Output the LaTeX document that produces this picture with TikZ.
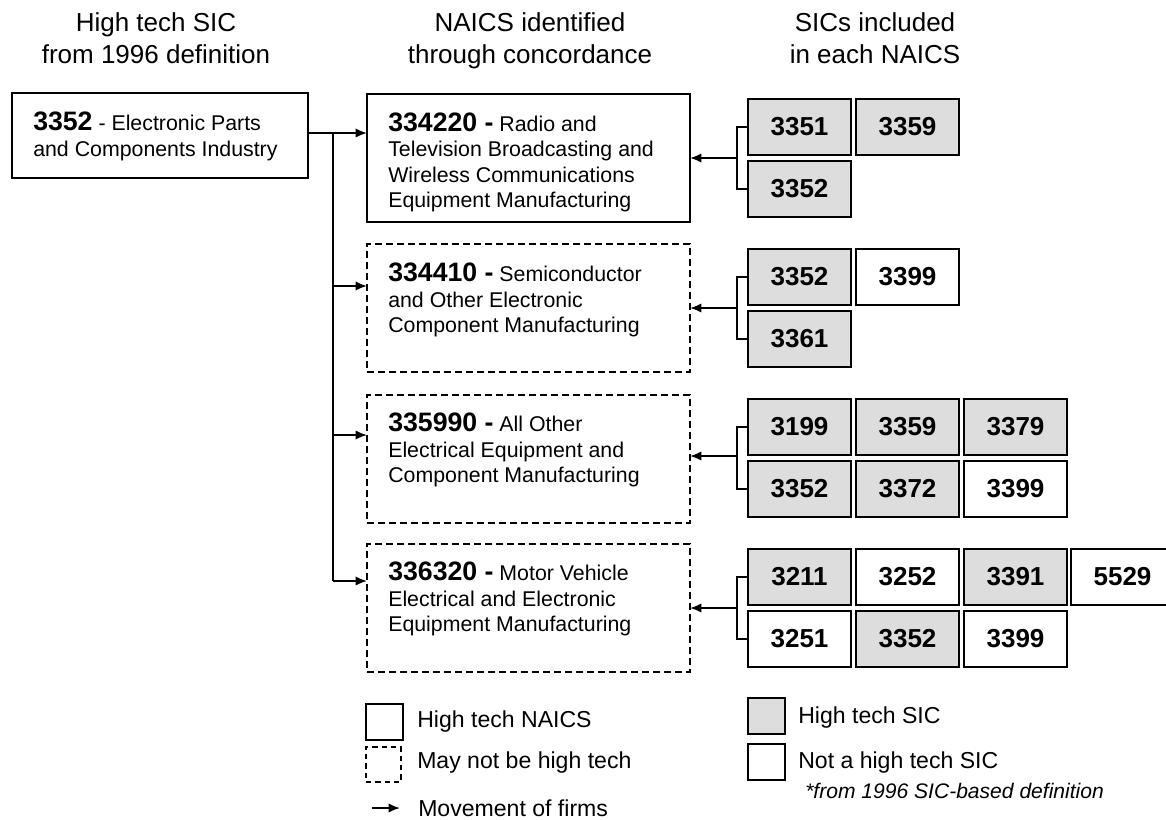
\documentclass[tikz,border=0pt]{standalone}
\usepackage{fontspec}
\setmainfont{Liberation Sans}
\usetikzlibrary{arrows.meta}
\definecolor{sicgray}{HTML}{DDDDDD}
\newcommand\codenum[1]{{\fontsize{20}{19.2}\selectfont\bfseries #1}}
\tikzset{
  conn/.style={line width=1.4pt},
  arr/.style={line width=1.4pt,-{Latex[length=8.5pt,width=7pt]}},
  bigbox/.style={draw,line width=1.4pt,rectangle,anchor=north west,inner sep=0pt,outer sep=0pt},
  naicsbox/.style={bigbox,minimum width=242.25pt,minimum height=96pt},
  maybebox/.style={naicsbox,dash pattern=on 5.25pt off 3pt},
  sic/.style={draw,line width=1.4pt,minimum width=77.25pt,minimum height=42pt,inner sep=0pt,outer sep=0pt,font=\fontsize{19.5}{22}\selectfont\bfseries},
  hisic/.style={sic,fill=sicgray},
  losic/.style={sic,fill=white},
  bodytext/.style={anchor=base west,inner sep=0pt,font=\fontsize{16}{19.2}\selectfont},
  headtext/.style={anchor=base,inner sep=0pt,font=\fontsize{19.5}{24}\selectfont},
  legtext/.style={anchor=base west,inner sep=0pt,font=\fontsize{17.3}{20}\selectfont},
  legbox/.style={draw,line width=1.4pt,anchor=north west,minimum width=27.75pt,minimum height=27pt,inner sep=0pt,outer sep=0pt},
}
\begin{document}
\begin{tikzpicture}[x=0.75pt,y=-0.75pt]
\useasboundingbox (0,0) rectangle (1166,819);

% headers
\node[headtext] (h1a) at (156,31) {High tech SIC};
\node[headtext] (h1b) at (156,63) {from 1996 definition};
\node[headtext] (h2a) at (530,31) {NAICS identified};
\node[headtext] (h2b) at (530,63) {through concordance};
\node[headtext] (h3a) at (875,31) {SICs included};
\node[headtext] (h3b) at (875,63) {in each NAICS};

% source SIC box
\node[bigbox,minimum width=222pt,minimum height=63.75pt] (a) at (12,93) {};
\node[bodytext] (at) at (33,130.7) {\begin{tabular}[t]{@{}l@{}}\codenum{3352} - Electronic Parts\\and Components Industry\end{tabular}};

% NAICS boxes
\node[naicsbox] (n1) at (367,94) {};
\node[maybebox] (n2) at (367,244) {};
\node[maybebox] (n3) at (367,395) {};
\node[maybebox] (n4) at (367,544) {};
\node[bodytext] (n1t) at (388,131) {\begin{tabular}[t]{@{}l@{}}\codenum{334220 -} Radio and\\Television Broadcasting and\\Wireless Communications\\Equipment Manufacturing\end{tabular}};
\node[bodytext] (n2t) at (388,281.5) {\begin{tabular}[t]{@{}l@{}}\codenum{334410 -} Semiconductor\\and Other Electronic\\Component Manufacturing\end{tabular}};
\node[bodytext] (n3t) at (388,431.5) {\begin{tabular}[t]{@{}l@{}}\codenum{335990 -} All Other\\Electrical Equipment and\\Component Manufacturing\end{tabular}};
\node[bodytext] (n4t) at (388,580.5) {\begin{tabular}[t]{@{}l@{}}\codenum{336320 -} Motor Vehicle\\Electrical and Electronic\\Equipment Manufacturing\end{tabular}};

% SIC boxes
\node[hisic] (s11) at (799.5,127) {3351};
\node[hisic] (s12) at (907.5,127) {3359};
\node[hisic] (s13) at (799.5,189) {3352};

\node[hisic] (s21) at (799.5,277) {3352};
\node[losic] (s22) at (907.5,277) {3399};
\node[hisic] (s23) at (799.5,339) {3361};

\node[hisic] (s31) at (799.5,427) {3199};
\node[hisic] (s32) at (907.5,427) {3359};
\node[hisic] (s33) at (1015.5,427) {3379};
\node[hisic] (s34) at (799.5,489) {3352};
\node[hisic] (s35) at (907.5,489) {3372};
\node[losic] (s36) at (1015.5,489) {3399};

\node[hisic] (s41) at (799.5,577) {3211};
\node[losic] (s42) at (907.5,577) {3252};
\node[hisic] (s43) at (1015.5,577) {3391};
\node[losic] (s44) at (1122.5,577) {5529};
\node[losic] (s45) at (799.5,639) {3251};
\node[hisic] (s46) at (907.5,639) {3352};
\node[losic] (s47) at (1015.5,639) {3399};

% left trunk
\coordinate (j1) at (333,133);
\coordinate (j2) at (333,286);
\coordinate (j3) at (333,435);
\coordinate (j4) at (333,581);
\draw[arr] (a.east |- j1) -- (n1.west |- j1);
\draw[conn] (j1) -- (j4);
\draw[arr] (j2) -- (n2.west |- j2);
\draw[arr] (j3) -- (n3.west |- j3);
\draw[arr] (j4) -- (n4.west |- j4);

% right brackets
\coordinate (b1) at (737,158);
\coordinate (b2) at (737,308);
\coordinate (b3) at (737,456);
\coordinate (b4) at (737,608);
\draw[conn] (s11.west) -- (s11.west -| b1) -- (s13.west -| b1) -- (s13.west);
\draw[arr] (b1) -- (n1.east |- b1);
\draw[conn] (s21.west) -- (s21.west -| b2) -- (s23.west -| b2) -- (s23.west);
\draw[arr] (b2) -- (n2.east |- b2);
\draw[conn] (s31.west) -- (s31.west -| b3) -- (s34.west -| b3) -- (s34.west);
\draw[arr] (b3) -- (n3.east |- b3);
\draw[conn] (s41.west) -- (s41.west -| b4) -- (s45.west -| b4) -- (s45.west);
\draw[arr] (b4) -- (n4.east |- b4);

% legend left
\node[legbox] (l1) at (366,704) {};
\node[legbox,dash pattern=on 4pt off 3pt,minimum width=26.25pt,minimum height=26.25pt] (l2) at (366,747) {};
\coordinate (la1) at (372,808);
\coordinate (la2) at (400,808);
\draw[arr] (la1) -- (la2);
\node[legtext] (l1t) at (417,727) {High tech NAICS};
\node[legtext] (l2t) at (417,768) {May not be high tech};
\node[legtext] (l3t) at (418,816) {Movement of firms};

% legend right
\node[legbox,fill=sicgray] (r1) at (748,698) {};
\node[legbox,fill=white] (r2) at (748,744) {};
\node[legtext] (r1t) at (798,723) {High tech SIC};
\node[legtext] (r2t) at (798,768) {Not a high tech SIC};
\node[anchor=base west,inner sep=0pt,font=\fontsize{15.8}{18}\selectfont\itshape] (r3t) at (805,798) {*from 1996 SIC-based definition};
\end{tikzpicture}
\end{document}
